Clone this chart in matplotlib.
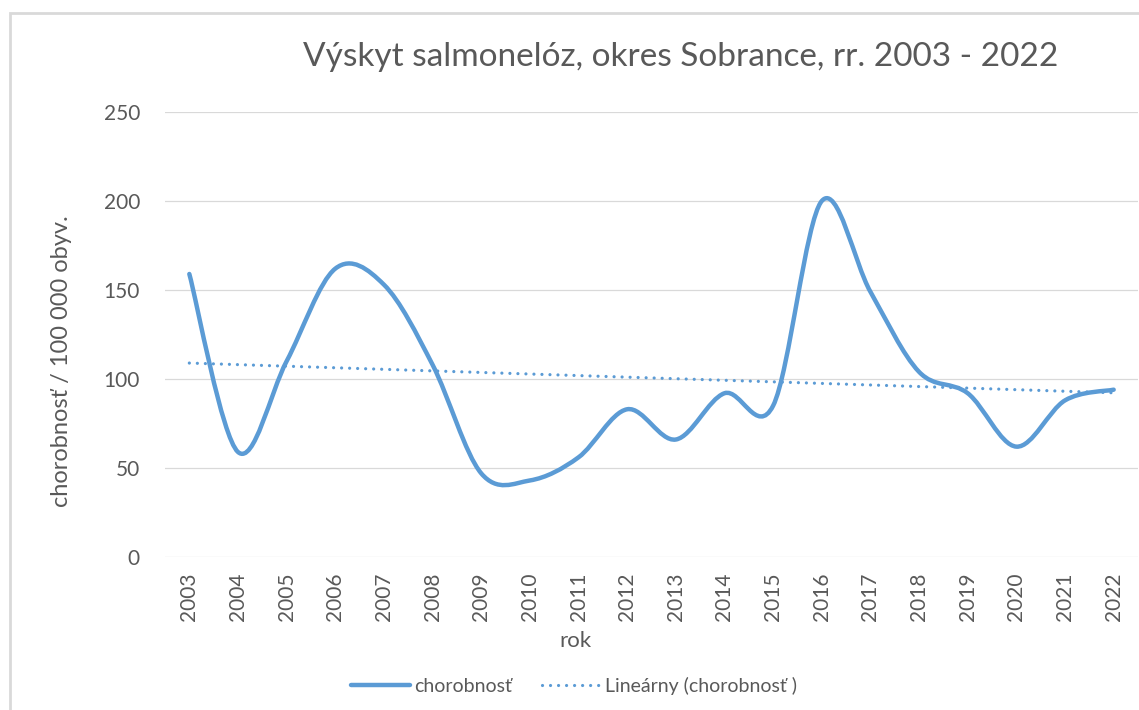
import numpy as np
import matplotlib
matplotlib.use("Agg")
import matplotlib.pyplot as plt
from matplotlib.path import Path
from matplotlib.patches import PathPatch, Rectangle
from matplotlib.lines import Line2D

# data
years = [2003, 2004, 2005, 2006, 2007, 2008, 2009, 2010, 2011, 2012,
         2013, 2014, 2015, 2016, 2017, 2018, 2019, 2020, 2021, 2022]
incidence = [159, 59, 110, 162, 153, 108, 47, 43, 56, 83,
             66, 92, 85, 200, 149, 104, 92, 62, 88, 94]

title = "Výskyt salmonelóz, okres Sobrance, rr. 2003 - 2022"
ylabel = "chorobnosť / 100 000 obyv."
xlabel = "rok"
series_name = "chorobnosť"
trend_name = "Lineárny (chorobnosť )"

blue = "#5B9BD5"
grey_text = "#595959"
grid_col = "#D9D9D9"
dotted = (0, (0.01, 2.5))

plt.rcParams['font.family'] = ['Lato', 'DejaVu Sans']

W, H = 1139, 710
fig = plt.figure(figsize=(W / 100, H / 100), dpi=100)
ax = fig.add_axes([165 / W, (H - 557) / H, (1138 - 165) / W, (557 - 112) / H])

x = np.arange(len(years))
y = np.array(incidence, dtype=float)


# Excel-like smoothed line: Catmull-Rom converted to cubic Bezier segments
def smooth_path(xs, ys):
    pts = np.column_stack([xs, ys])
    n = len(pts)
    verts = [pts[0]]
    codes = [Path.MOVETO]
    for i in range(n - 1):
        p0 = pts[max(i - 1, 0)]
        p1 = pts[i]
        p2 = pts[i + 1]
        p3 = pts[min(i + 2, n - 1)]
        c1 = p1 + (p2 - p0) / 6.0
        c2 = p2 - (p3 - p1) / 6.0
        verts += [c1, c2, p2]
        codes += [Path.CURVE4] * 3
    return Path(verts, codes)


patch = PathPatch(smooth_path(x, y), facecolor="none", edgecolor=blue,
                  lw=3.2, capstyle="round", joinstyle="round", zorder=3)
ax.add_patch(patch)

# linear trend
k, q = np.polyfit(x, y, 1)
ax.plot(x, k * x + q, color=blue, lw=2.3, linestyle=dotted,
        dash_capstyle="round", zorder=2)

ax.set_xlim(-0.5, len(years) - 0.5)
ax.set_ylim(0, 250)
ax.set_yticks(np.arange(0, 251, 50))
ax.set_xticks(x)
ax.set_xticklabels([str(v) for v in years], rotation=90)
ax.grid(axis="y", color=grid_col, lw=0.9)
ax.set_axisbelow(True)
for s in ax.spines.values():
    s.set_visible(False)
ax.tick_params(axis="y", length=0, pad=18, labelsize=15, labelcolor=grey_text)
ax.tick_params(axis="x", length=0, pad=11, labelsize=15, labelcolor=grey_text)

fig.text(681 / W, 1 - 57 / H, title, ha="center", va="center",
         fontsize=24, color=grey_text)
fig.text(62 / W, 1 - 361 / H, ylabel, ha="center", va="center",
         rotation=90, fontsize=17, color=grey_text)
fig.text(575 / W, 1 - 641 / H, xlabel, ha="center", va="center",
         fontsize=16, color=grey_text)

handles = [
    Line2D([], [], color=blue, lw=3.2, solid_capstyle="round"),
    Line2D([], [], color=blue, lw=2.3, linestyle=dotted,
           dash_capstyle="round"),
]
fig.legend(handles, [series_name, trend_name], loc="center",
           bbox_to_anchor=(574 / W, 1 - 686 / H), ncol=2, frameon=False,
           fontsize=14, labelcolor=grey_text, handlelength=3.0,
           handletextpad=0.25, columnspacing=1.5)

# chart area border (top and left visible)
fig.patches.append(Rectangle((10 / W, -0.1), 1.2, 1.1 - 13 / H,
                             transform=fig.transFigure, fill=False,
                             edgecolor=grid_col, lw=2))

fig.savefig("out.png", dpi=100, facecolor="white")
